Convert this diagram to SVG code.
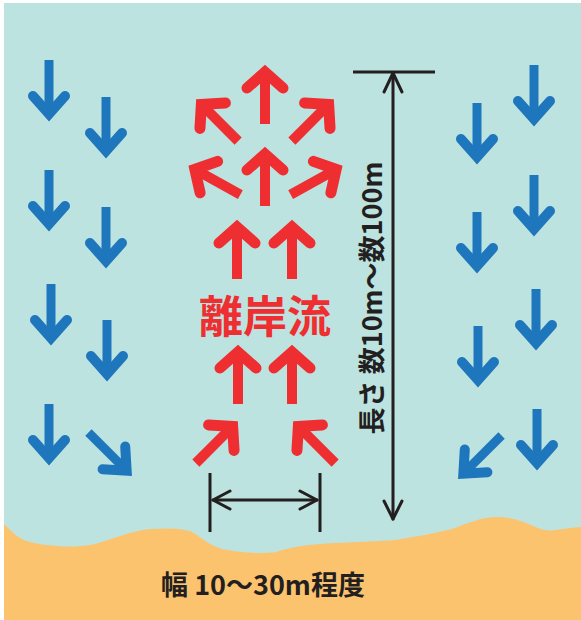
<svg xmlns="http://www.w3.org/2000/svg" xmlns:xlink="http://www.w3.org/1999/xlink" width="581" height="620" viewBox="0 0 581 620">
  <style>
    .sea { fill: #bce3df; }
    .sand { fill: #fcc36f; }
    .blue { stroke: #1e76bc; fill: none; }
    .red { stroke: #ee2e31; fill: none; }
    .dim { stroke: #231f20; fill: none; stroke-width: 3; stroke-linecap: round; stroke-linejoin: round; }
    .bar { stroke: #231f20; stroke-width: 3; }
    .lbl { font-family: "Noto Sans CJK JP", "Noto Sans", sans-serif; font-weight: 700; }
  </style>
  <defs>
    <!-- blue current arrow: points down, tip at origin -->
    <g id="arrowDown">
      <path d="M0,-63 V-10" stroke-width="9"/>
      <path d="M-16,-27 L0,-9 L16,-27" stroke-width="10" stroke-linecap="round" stroke-linejoin="miter"/>
    </g>
    <!-- red rip current arrow: points up, tip at origin -->
    <g id="arrowUp">
      <path d="M0,61 V10" stroke-width="10"/>
      <path d="M-18,25 L0,9 L18,25" stroke-width="11" stroke-linecap="round" stroke-linejoin="miter"/>
    </g>
  </defs>

  <rect width="581" height="620" fill="#ffffff"/>
  <rect class="sea" x="4" y="3" width="577" height="617"/>

  <!-- beach -->
  <path id="beach" class="sand" d="M4,524 C12,532 20,540 30,542 C50,547 80,548 95,544 C115,538 135,530 150,529 C165,528 180,528 190,531 C200,536 208,545 222,549 C240,553 262,554 276,552 C290,547 310,544 335,543 C360,542 380,541 395,540 C415,537 435,533 452,529 C470,522 485,516 500,517 C515,518 525,522 538,528 C545,531 552,531 563,529 C570,528 576,527 581,527 L581,620 L4,620 Z"/>

  <!-- longshore currents, left side -->
  <g id="left-currents" class="blue">
    <use xlink:href="#arrowDown" transform="translate(49,123)"/>
    <use xlink:href="#arrowDown" transform="translate(106,160)"/>
    <use xlink:href="#arrowDown" transform="translate(49,233)"/>
    <use xlink:href="#arrowDown" transform="translate(106,270)"/>
    <use xlink:href="#arrowDown" transform="translate(51,347)"/>
    <use xlink:href="#arrowDown" transform="translate(107,383)"/>
    <use xlink:href="#arrowDown" transform="translate(49,467)"/>
    <use xlink:href="#arrowDown" transform="translate(133,477) rotate(-45)"/>
  </g>

  <!-- longshore currents, right side -->
  <g id="right-currents" class="blue">
    <use xlink:href="#arrowDown" transform="translate(534,128)"/>
    <use xlink:href="#arrowDown" transform="translate(477,166)"/>
    <use xlink:href="#arrowDown" transform="translate(534,238)"/>
    <use xlink:href="#arrowDown" transform="translate(477,275)"/>
    <use xlink:href="#arrowDown" transform="translate(536,352)"/>
    <use xlink:href="#arrowDown" transform="translate(478,389)"/>
    <use xlink:href="#arrowDown" transform="translate(537,472)"/>
    <use xlink:href="#arrowDown" transform="translate(457,480) rotate(45)"/>
  </g>

  <!-- rip current -->
  <g id="rip-current" class="red">
    <use xlink:href="#arrowUp" transform="translate(265,63)"/>
    <use xlink:href="#arrowUp" transform="translate(195,98) rotate(-45)"/>
    <use xlink:href="#arrowUp" transform="translate(335,98) rotate(45)"/>
    <use xlink:href="#arrowUp" transform="translate(265,145)"/>
    <use xlink:href="#arrowUp" transform="translate(187,165) rotate(-61)"/>
    <use xlink:href="#arrowUp" transform="translate(344,165) rotate(61)"/>
    <use xlink:href="#arrowUp" transform="translate(237,218)"/>
    <use xlink:href="#arrowUp" transform="translate(292,218)"/>
    <use xlink:href="#arrowUp" transform="translate(238,343)"/>
    <use xlink:href="#arrowUp" transform="translate(292,343)"/>
    <use xlink:href="#arrowUp" transform="translate(239,420) rotate(45)"/>
    <use xlink:href="#arrowUp" transform="translate(292,420) rotate(-45)"/>
  </g>
  <text id="rip-label" class="lbl" x="265" y="333" font-size="44" fill="#ee2e31" text-anchor="middle">離岸流</text>

  <!-- length dimension -->
  <g id="length-dim">
    <line class="bar" x1="353" y1="72" x2="435" y2="72"/>
    <line class="dim" x1="393" y1="73" x2="393" y2="519"/>
    <path class="dim" d="M384,92 L393,73 L402,92"/>
    <path class="dim" d="M384,501 L393,519 L402,501"/>
    <text class="lbl" transform="translate(382,298) rotate(-90)" font-size="27" fill="#231f20" text-anchor="middle">長さ 数10m～数100m</text>
  </g>

  <!-- width dimension -->
  <g id="width-dim">
    <line class="bar" x1="210" y1="473" x2="210" y2="532"/>
    <line class="bar" x1="320" y1="473" x2="320" y2="532"/>
    <line class="dim" x1="213" y1="500" x2="317" y2="500"/>
    <path class="dim" d="M230,491 L213,500 L230,509"/>
    <path class="dim" d="M300,491 L317,500 L300,509"/>
  </g>
  <text id="width-label" class="lbl" x="161" y="595" font-size="27" fill="#231f20">幅 10～30m程度</text>
</svg>
